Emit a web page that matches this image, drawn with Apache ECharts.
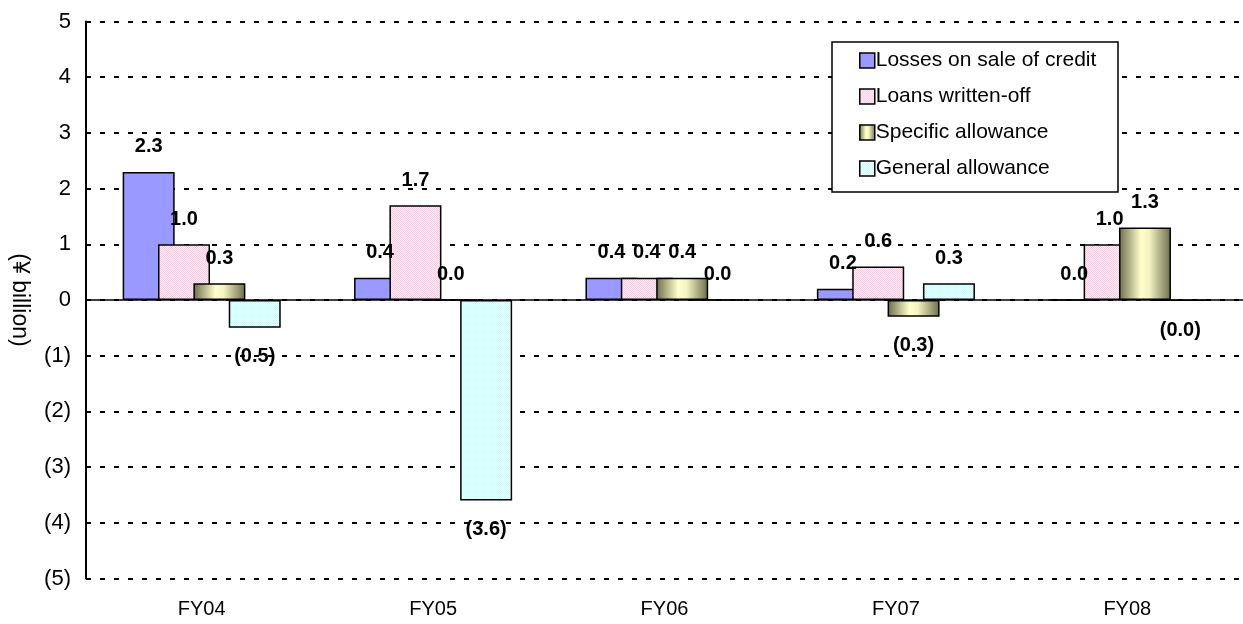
<!DOCTYPE html>
<html>
<head>
<meta charset="utf-8">
<script src="https://cdn.jsdelivr.net/npm/echarts@6/dist/echarts.min.js"></script>
<style>
  html, body { margin: 0; padding: 0; background: #fff; }
  #chart { width: 1243px; height: 624px; }
</style>
</head>
<body>
<div id="chart"></div>
<script>
// Credit cost breakdown, ¥ billion
const categories = ['FY04', 'FY05', 'FY06', 'FY07', 'FY08'];
const lossesOnSale = [2.3, 0.4, 0.4, 0.2, 0.0];
const loansWrittenOff = [1.0, 1.7, 0.4, 0.6, 1.0];
const specificAllowance = [0.3, 0.0, 0.4, -0.3, 1.3];
const generalAllowance = [-0.5, -3.6, 0.0, 0.3, -0.01];
const seriesNames = ['Losses on sale of credit', 'Loans written-off', 'Specific allowance', 'General allowance'];

const FONT = '"Liberation Sans", Arial, sans-serif';

// Small checkerboard tile used as a dithered fill
function ditherTile(a, b) {
  const c = document.createElement('canvas');
  c.width = 2; c.height = 2;
  const g = c.getContext('2d');
  g.fillStyle = a; g.fillRect(0, 0, 2, 2);
  g.fillStyle = b; g.fillRect(0, 0, 1, 1); g.fillRect(1, 1, 1, 1);
  return { image: c, repeat: 'repeat' };
}

const fills = [
  '#9999FF',
  ditherTile('#FFF0F7', '#FFC8E4'),
  {
    type: 'linear', x: 0, y: 0, x2: 1, y2: 0,
    colorStops: [
      { offset: 0, color: '#6B6B4C' },
      { offset: 0.42, color: '#FFFFCC' },
      { offset: 0.58, color: '#F4F4C2' },
      { offset: 1, color: '#6B6B4C' }
    ]
  },
  ditherTile('#F2FFFF', '#C4FFFF')
];

function fmt(v) {
  return v < 0 ? '(' + Math.abs(v).toFixed(1) + ')' : v.toFixed(1);
}

function makeSeries(name, values, fill, withZeroLine) {
  const s = {
    name: name,
    type: 'bar',
    // positive and zero values label above the bar, negatives below it
    data: values.map(v => ({
      value: v,
      label: v < 0 ? { position: 'bottom', distance: 19 } : { position: 'top', distance: 15 }
    })),
    barWidth: 52,
    barGap: '-32%',
    itemStyle: { color: fill, borderColor: '#000', borderWidth: 1.5 },
    label: {
      show: true,
      formatter: p => fmt(p.value),
      color: '#000',
      fontFamily: FONT,
      fontWeight: 'bold',
      fontSize: 20
    },
    emphasis: { disabled: true }
  };
  if (withZeroLine) {
    s.markLine = {
      silent: true,
      symbol: 'none',
      label: { show: false },
      lineStyle: { color: '#000', type: 'solid', width: 1.5 },
      data: [{ yAxis: 0 }]
    };
  }
  return s;
}

const chart = echarts.init(document.getElementById('chart'), null, { renderer: 'canvas' });
chart.setOption({
  backgroundColor: '#fff',
  animation: false,
  textStyle: { fontFamily: FONT },
  grid: { left: 86, top: 21.5, width: 1167, height: 557 },
  graphic: [{
    type: 'rect',
    z: 10,
    shape: { x: 832, y: 42, width: 286, height: 150 },
    style: { fill: '#fff', stroke: '#000', lineWidth: 1.5 }
  }],
  legend: {
    z: 20,
    orient: 'vertical',
    left: 859,
    top: 50,
    padding: 0,
    itemWidth: 15,
    itemHeight: 15,
    itemGap: 15,
    icon: 'rect',
    itemStyle: { borderColor: '#000', borderWidth: 1.5 },
    textStyle: { color: '#000', fontSize: 21, fontFamily: FONT, lineHeight: 21, padding: [0, 0, 0, -4] },
    data: seriesNames
  },
  xAxis: {
    type: 'category',
    data: categories,
    axisLine: { show: false, onZero: false },
    axisTick: { show: false },
    axisLabel: { color: '#000', fontSize: 20, margin: 21, fontFamily: FONT },
    splitLine: { show: false }
  },
  yAxis: {
    type: 'value',
    min: -5,
    max: 5,
    interval: 1,
    name: '(¥ billion)',
    nameLocation: 'middle',
    nameRotate: -90,
    nameGap: 55,
    nameTextStyle: { color: '#000', fontSize: 23, fontFamily: FONT },
    axisLine: { show: true, lineStyle: { color: '#000', width: 2 } },
    axisTick: { show: true, inside: true, length: 5, lineStyle: { color: '#000', width: 2 } },
    axisLabel: { color: '#000', fontSize: 22, margin: 15, fontFamily: FONT, formatter: v => v < 0 ? '(' + (-v) + ')' : String(v) },
    splitLine: { show: true, lineStyle: { color: '#000', type: [5, 9], width: 2 } }
  },
  series: [
    makeSeries(seriesNames[0], lossesOnSale, fills[0], true),
    makeSeries(seriesNames[1], loansWrittenOff, fills[1], false),
    makeSeries(seriesNames[2], specificAllowance, fills[2], false),
    makeSeries(seriesNames[3], generalAllowance, fills[3], false)
  ]
});
</script>
</body>
</html>
